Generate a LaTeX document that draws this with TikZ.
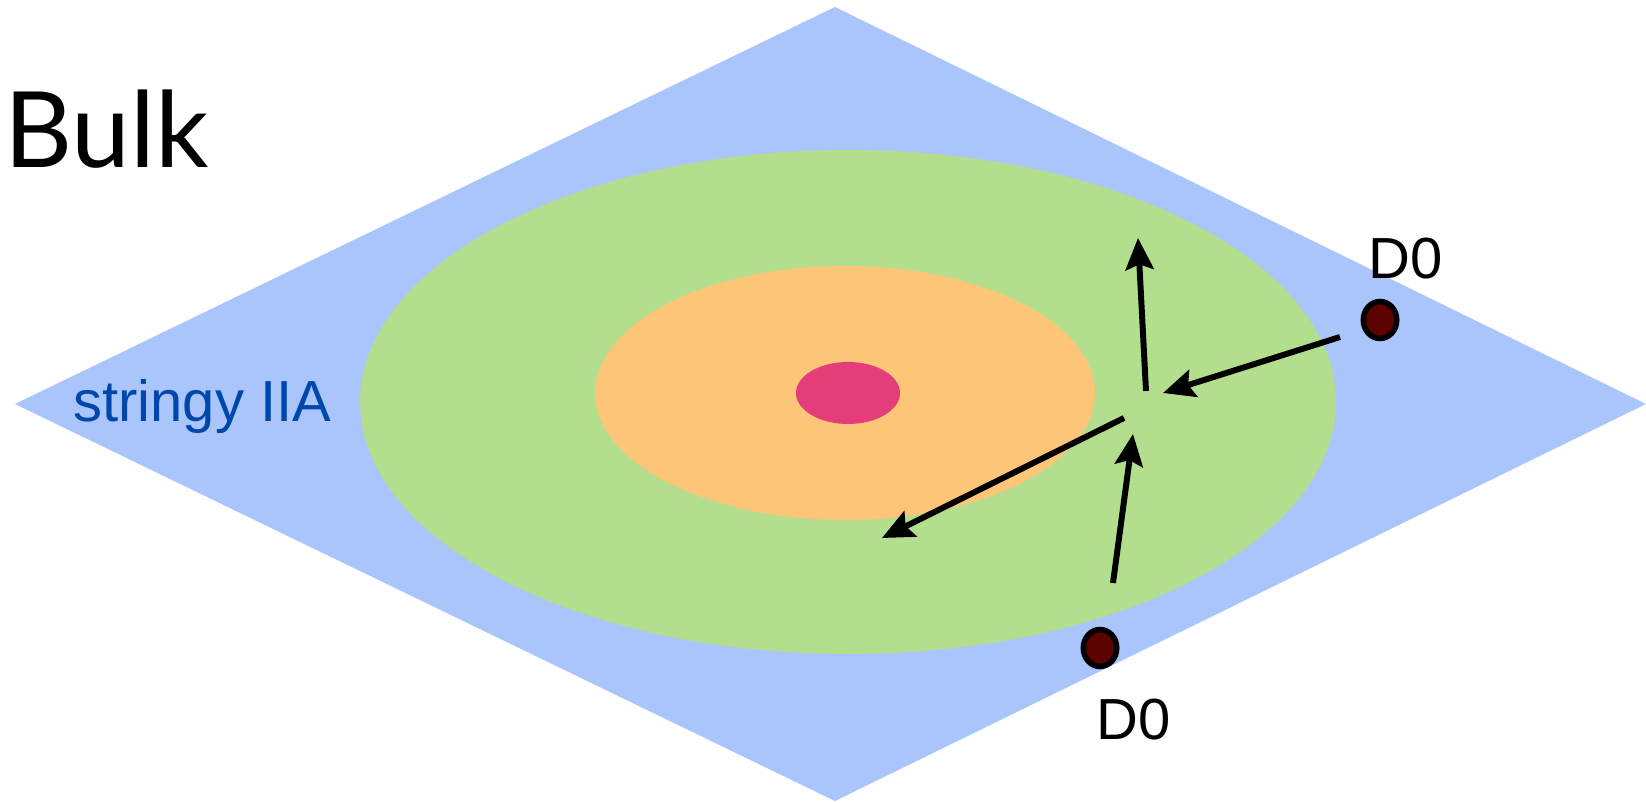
\documentclass[tikz,border=0pt]{standalone}
\usepackage{fontspec}
\setmainfont{Liberation Sans}
\newfontfamily\bulkfont{Lato}
\usetikzlibrary{arrows.meta,shapes.geometric}
\definecolor{bulkblue}{HTML}{A9C5FC}
\definecolor{ringgreen}{HTML}{B3DE8E}
\definecolor{ringorange}{HTML}{FDC578}
\definecolor{corepink}{HTML}{E43D7A}
\definecolor{dotred}{HTML}{5C0000}
\definecolor{labelblue}{HTML}{0047AB}
\tikzset{
  dzero/.style={ellipse, draw=black, line width=3.2pt, fill=dotred, minimum width=19pt, minimum height=21pt, inner sep=0pt},
  flow/.style={line width=3.4pt, -{Stealth[length=18pt,width=16pt,inset=3pt]}},
  dlabel/.style={font=\fontsize{33}{33}\selectfont, inner sep=0pt}
}
\begin{document}
\begin{tikzpicture}[x=0.02cm,y=-0.02cm]
\useasboundingbox (0,0) rectangle (1646,803);
\fill[bulkblue] (835,7) -- (1646,404) -- (835,801) -- (15,404) -- cycle;
\fill[ringgreen] (848,402) ellipse [x radius=488, y radius=252];
\fill[ringorange] (845,393) ellipse [x radius=250, y radius=127];
\fill[corepink] (848,393) ellipse [x radius=52, y radius=31];
\node[font=\bulkfont\fontsize{60}{60}\selectfont, inner sep=0pt, anchor=base west] (bulk) at (4,168) {Bulk};
\node[font=\fontsize{33}{33}\selectfont, text=labelblue, inner sep=0pt, anchor=base west] (iia) at (73,422) {stringy IIA};
\node[dzero] (d0a) at (1380,320) {};
\node[dzero] (d0b) at (1100,648) {};
\node[dlabel] (la) at (1406,259) {D0};
\node[dlabel] (lb) at (1134,720) {D0};
\coordinate (a1) at (1340,337);
\coordinate (a2) at (1163,393);
\coordinate (b1) at (1146,391);
\coordinate (b2) at (1138,238);
\coordinate (c1) at (1124,418);
\coordinate (c2) at (882,538);
\coordinate (e1) at (1113,583);
\coordinate (e2) at (1133,434);
\draw[flow] (a1) -- (a2);
\draw[flow] (b1) -- (b2);
\draw[flow] (c1) -- (c2);
\draw[flow] (e1) -- (e2);
\end{tikzpicture}
\end{document}
